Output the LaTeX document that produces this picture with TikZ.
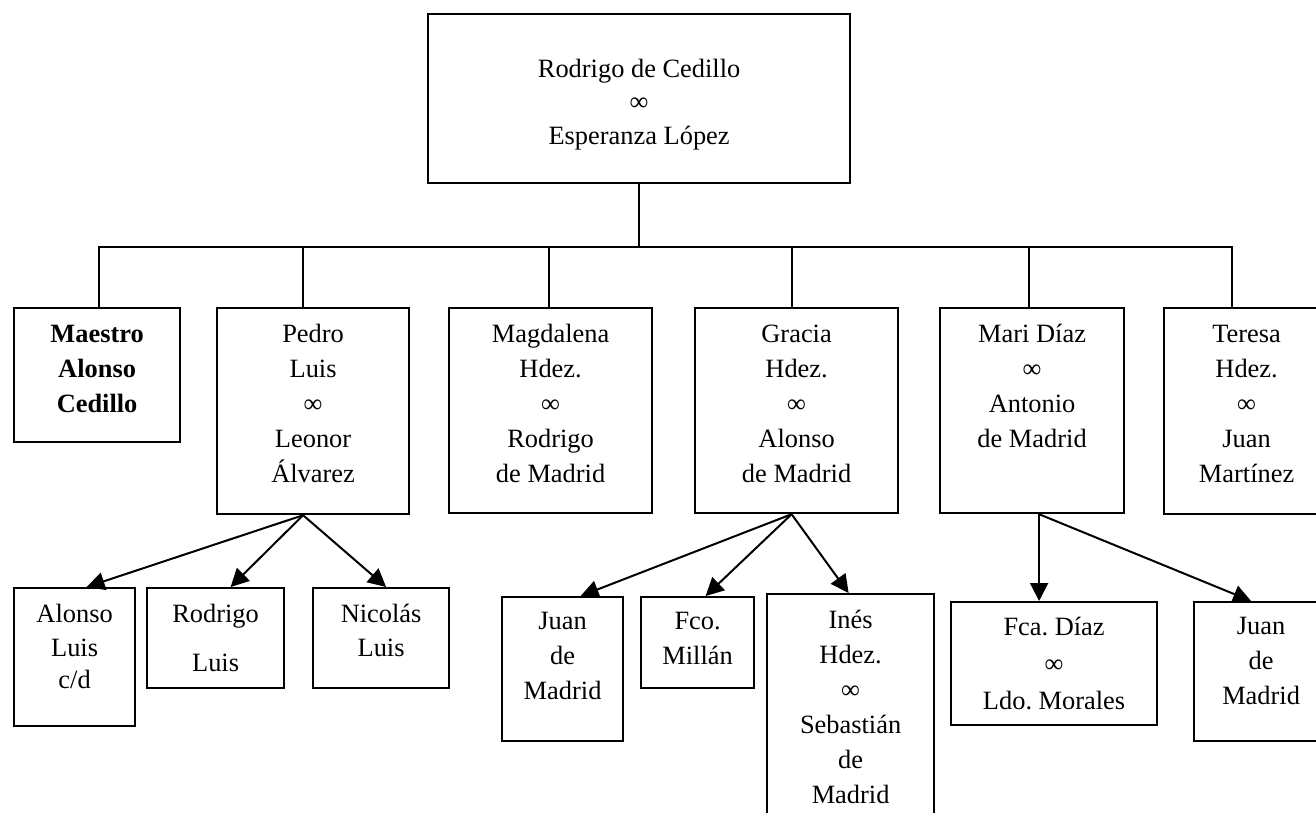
\documentclass[tikz,border=0pt]{standalone}
\usepackage{fontspec}
\setmainfont{Liberation Serif}
\usetikzlibrary{arrows.meta}

% text block of a family box, set from the top
\newcommand{\famcell}[4][9.5pt]{\parbox[t][#3][t]{#2}{\centering\vspace*{#1}\strut #4}}

\begin{document}
\begin{tikzpicture}[
    x=1pt, y=-1pt,
    box/.style={draw, line width=2.2pt, inner sep=0pt, anchor=north west, font=\fontsize{26.4}{35}\selectfont\frenchspacing},
    link/.style={line width=2pt},
    arrow/.style={line width=2pt, -{Triangle[length=18pt,width=18pt]}}
]
\useasboundingbox (0,0) rectangle (1316,812);

% Parents
\node[box] (couple) at (427,13) {\famcell[38.5pt]{422pt}{169pt}{Rodrigo de Cedillo\\[-1.5pt]∞\\[-1.5pt]Esperanza López}};

% Children
\node[box] (maestro) at (13,307) {\famcell{166pt}{134pt}{\textbf{Maestro}\\\textbf{Alonso}\\\textbf{Cedillo}}};
\node[box] (pedro) at (216,307) {\famcell{192pt}{206pt}{Pedro\\Luis\\∞\\Leonor\\Álvarez}};
\node[box] (magdalena) at (448,307) {\famcell{203pt}{205pt}{Magdalena\\Hdez.\\∞\\Rodrigo\\de Madrid}};
\node[box] (gracia) at (694,307) {\famcell{203pt}{205pt}{Gracia\\Hdez.\\∞\\Alonso\\de Madrid}};
\node[box] (mari) at (939,307) {\famcell{184pt}{205pt}{Mari Díaz\\∞\\Antonio\\de Madrid}};
\node[box] (teresa) at (1163,307) {\famcell{165pt}{206pt}{Teresa\\Hdez.\\∞\\Juan\\Martínez}};

% Grandchildren
\node[box] (alonso) at (13,587) {\famcell{121pt}{138pt}{Alonso\\[-1pt]Luis\\[-3pt]c/d}};
\node[box] (rodrigo) at (146,587) {\famcell{137pt}{100pt}{Rodrigo\\[14pt]Luis}};
\node[box] (nicolas) at (312,587) {\famcell{136pt}{100pt}{Nicolás\\[-1pt]Luis}};
\node[box] (juanA) at (501,596) {\famcell[7.5pt]{121pt}{144pt}{Juan\\de\\Madrid}};
\node[box] (fco) at (640,596) {\famcell[7.5pt]{113pt}{91pt}{Fco.\\Millán}};
\node[box] (ines) at (766,593) {\famcell{167pt}{240pt}{Inés\\Hdez.\\∞\\Sebastián\\de\\Madrid}};
\node[box] (fca) at (950,601) {\famcell[8.5pt]{206pt}{123pt}{Fca. Díaz\\[2pt]∞\\[2pt]Ldo. Morales}};
\node[box] (juanB) at (1193,601) {\famcell[7.5pt]{134pt}{139pt}{Juan\\de\\Madrid}};

% Lines to the children
\draw[link] (couple.south) -- ++(0,63) coordinate (hub);
\foreach \k/\s in {maestro/2, pedro/-10, magdalena/-2, gracia/-5, mari/-3, teresa/-15}
    \draw[link] (hub) -| ([xshift=\s pt]\k.north);

% Arrows to the grandchildren
\foreach \k/\s in {alonso/12, rodrigo/15, nicolas/5}
    \draw[arrow] ([xshift=-10pt]pedro.south) -- ([xshift=\s pt]\k.north);
\foreach \k/\s in {juanA/18, fco/8, ines/-2}
    \draw[arrow] ([xshift=-5pt]gracia.south) -- ([xshift=\s pt]\k.north);
\foreach \k/\s in {fca/-15, juanB/-10}
    \draw[arrow] ([xshift=7pt]mari.south) -- ([xshift=\s pt]\k.north);

\end{tikzpicture}
\end{document}
